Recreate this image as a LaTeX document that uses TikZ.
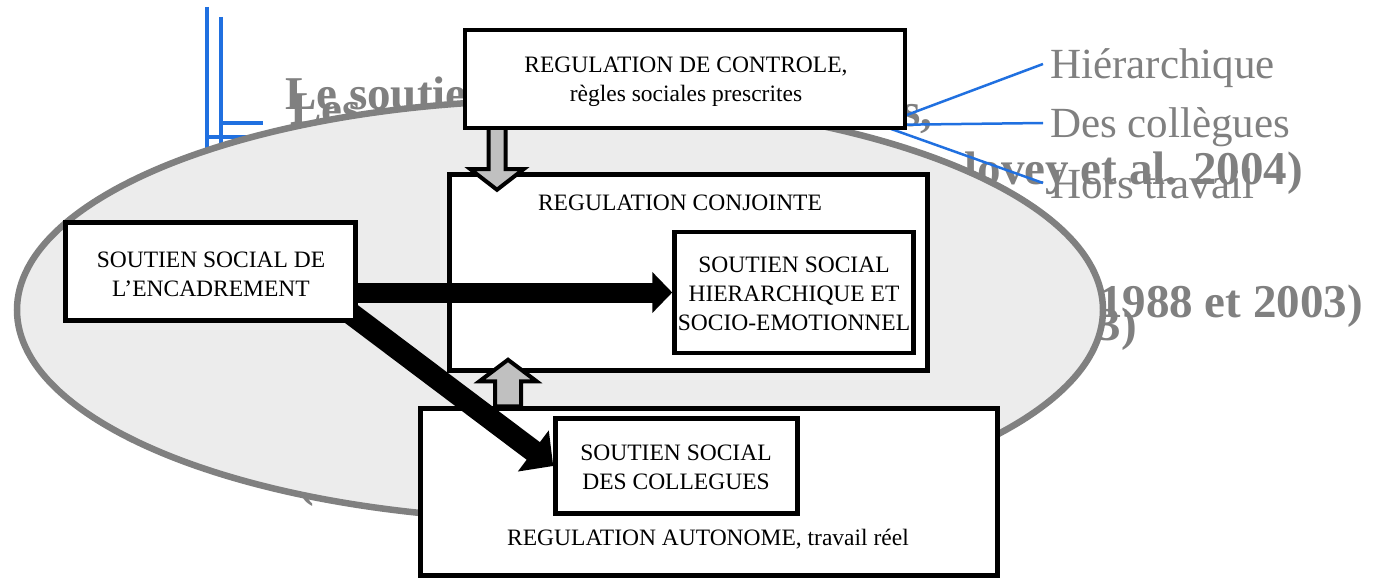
\documentclass[tikz,border=0pt]{standalone}
\usepackage{fontspec}
\setmainfont{Liberation Serif}
\usetikzlibrary{arrows.meta,calc}
\definecolor{linkblue}{RGB}{32,112,224}
\definecolor{ellfill}{RGB}{236,236,236}
\definecolor{blockgray}{RGB}{192,192,192}
\definecolor{txtgray}{RGB}{128,128,128}
\pgfdeclarelayer{front}
\pgfsetlayers{main,front}
\begin{document}
\begin{tikzpicture}[x=1pt,y=-1pt,
  box/.style={draw=black, line width=4.5pt, fill=white, inner sep=0pt},
  boxtext/.style={inner sep=0pt, align=center, font=\fontsize{23.5}{29}\selectfont},
  bgtext/.style={inner sep=0pt, text=txtgray, font=\fontsize{47}{56}\selectfont\bfseries},
  sidelabel/.style={anchor=base west, inner xsep=7pt, inner ysep=0pt, text height=30pt, text depth=0pt,
                    text=txtgray, font=\fontsize{43}{50}\selectfont},
  bluethick/.style={draw=linkblue, line width=4pt},
  bluethin/.style={draw=linkblue, line width=2.5pt},
  blockarrow/.style={fill=blockgray, draw=black, line width=4pt, line join=miter},
  bigarrow/.style={line width=#1pt, draw=black}
]
\useasboundingbox (0,0) rectangle (1374,583);
\fill[white] (0,0) rectangle (1374,583);

% left blue connector lines (partly hidden by the ellipse)
\coordinate (bv1a) at (207,7);   \coordinate (bv1b) at (207,170);
\coordinate (bv2a) at (221,17);  \coordinate (bv2b) at (221,170);
\coordinate (bh1a) at (221,123); \coordinate (bh1b) at (263,123);
\coordinate (bh2a) at (207,137); \coordinate (bh2b) at (262,137);
\draw[bluethick] (bv1a) -- (bv1b);
\draw[bluethick] (bv2a) -- (bv2b);
\draw[bluethick] (bh1a) -- (bh1b);
\draw[bluethick] (bh2a) -- (bh2b);

% grey background title fragments (hidden behind the ellipse)
\node[bgtext, anchor=base west] (t1) at (285,110) {Le soutien};
\node[bgtext, anchor=base west] (t2) at (290,125) {Les};
\node[bgtext, anchor=base west] (t3) at (902,127) {s,};
\node[bgtext, anchor=base east] (t4) at (1303,185) {lovey et al. 2004)};
\node[bgtext, anchor=base east] (t5) at (1363,317) {(1988 et 2003)};
\node[bgtext, anchor=base east] (t6) at (1137,340) {3)};
\node[bgtext, anchor=base west] (t7) at (298,496) {(};

% ellipse
\draw[line width=6.5pt, draw=txtgray, fill=ellfill] (560,310) ellipse [x radius=543pt, y radius=210pt];

% side labels with fan lines
\node[sidelabel] (hierl) at (1043,79) {Hiérarchique};
\node[sidelabel] (collegl) at (1043,138) {Des collègues};
\node[sidelabel] (horsl) at (1043,198) {Hors travail};
\coordinate (hub) at (880,125);
\draw[bluethin] (hub) -- (hierl.west);
\draw[bluethin] (hub) -- (collegl.west);
\draw[bluethin] (hub) -- (horsl.west);

% boxes
\node[box, minimum width=478pt, minimum height=196pt] (conj) at (688.5,272.5) {};
\node[boxtext] (conjt) at (680,204.2) {REGULATION CONJOINTE\strut};
\node[box, minimum width=239pt, minimum height=121pt] (hier) at (794,292.5) {};
\node[boxtext] (hiert) at (794,295.7) {SOUTIEN SOCIAL\strut\\HIERARCHIQUE ET\strut\\SOCIO-EMOTIONNEL\strut};
\node[box, minimum width=577pt, minimum height=167pt] (auto) at (709,492) {};
\node[boxtext] (autot) at (708,539.2) {REGULATION AUTONOME, travail réel\strut};
\node[box, minimum width=242pt, minimum height=95pt] (coll) at (676.5,466) {};
\node[boxtext] (collt) at (676,468.7) {SOUTIEN SOCIAL\strut\\DES COLLEGUES\strut};

\begin{pgfonlayer}{front}
\node[box, minimum width=440pt, minimum height=98pt] (ctrl) at (685,79) {};
\node[boxtext] (ctrlt) at (686,81.7) {REGULATION DE CONTROLE,\strut\\règles sociales prescrites\strut};
\node[box, minimum width=290pt, minimum height=98pt] (enc) at (210.5,271.5) {};
\node[boxtext] (enct) at (211,275.7) {SOUTIEN SOCIAL DE\strut\\L’ENCADREMENT\strut};
\end{pgfonlayer}

% grey block arrows
\coordinate (dax) at (497,0);
\coordinate (uax) at (508,0);
\path[blockarrow] (ctrl.south -| dax) ++(-8.5,-4) -- ++(0,43) -- ++(-18,0) -- ++(26.5,20.5) -- ++(26.5,-20.5) -- ++(-18,0) -- ++(0,-43);
\draw[blockarrow] (auto.north -| uax) ++(-13,0) -- ++(0,-25) -- ++(-15.5,0) -- ++(28.5,-21.5) -- ++(28.5,21.5) -- ++(-15.5,0) -- ++(0,25) -- cycle;

% black arrows
\draw[bigarrow=20, -{Triangle[length=20pt 0 0, width=40pt 0 0]}] (enc.east |- hier.west) -- (hier.west);
\draw[bigarrow=22, -{Triangle[length=25pt 0 0, width=50pt 0 0]}] ($(enc.south east)+(-8,-10)$) -- (coll.west);
\end{tikzpicture}
\end{document}
